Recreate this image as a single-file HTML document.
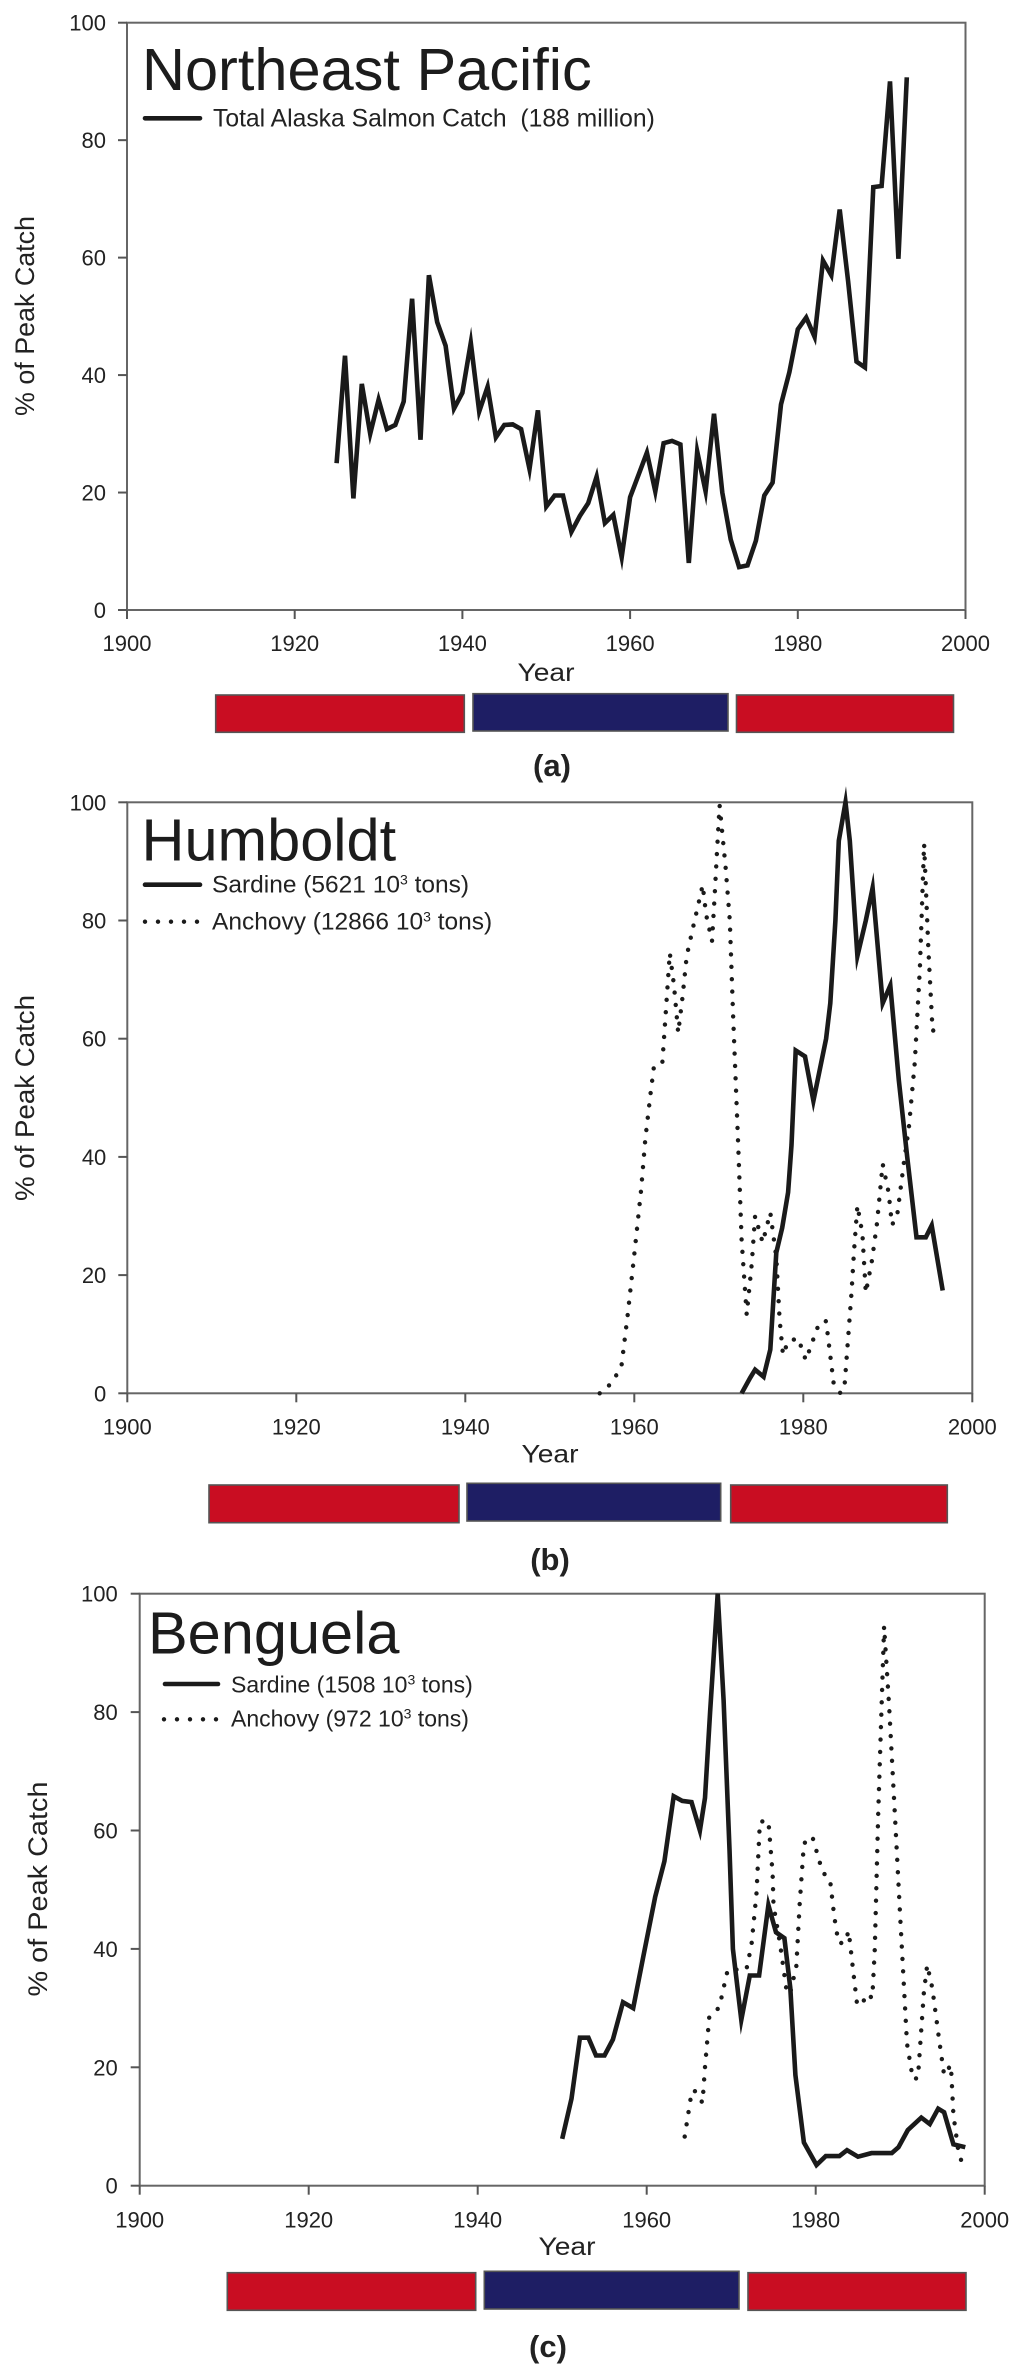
<!DOCTYPE html>
<html lang="en">
<head>
<meta charset="utf-8">
<title>Peak catch charts</title>
<style>
html,body{margin:0;padding:0;background:#fff;}
svg{display:block;font-family:"Liberation Sans",Arial,sans-serif;fill:#222;filter:blur(0.35px);}
.title{font-size:59.5px;fill:#1c1c1c;}
.legend{font-size:24.5px;white-space:pre;}
.legend-narrow{font-size:23px;}
.tick{font-size:22px;}
.ytitle{font-size:27px;}
.xtitle{font-size:25px;}
.panel{font-size:31px;font-weight:bold;}
.sup{font-size:14px;}
.frame{fill:none;stroke:#666;stroke-width:2;}
.red{fill:#c90d22;stroke:#555;stroke-width:1.6;}
.blue{fill:#1e1e64;stroke:#555;stroke-width:1.6;}
.solid{fill:none;stroke:#1a1a1a;stroke-width:4.6;stroke-linejoin:miter;stroke-miterlimit:8;}
.legend-solid{stroke-linecap:round;}
.dotted{fill:none;stroke:#1a1a1a;stroke-width:4.4;stroke-linecap:round;stroke-dasharray:0 12.4;}
.legend-dotted{stroke-dasharray:0 13;}
</style>
</head>
<body>
<svg id="figure" width="1024" height="2370" viewBox="0 0 1024 2370" xmlns="http://www.w3.org/2000/svg">
  <rect width="1024" height="2370" fill="#fff"/>

  <g id="panel-a">
    <rect class="frame" x="127" y="22.7" width="838.5" height="587.3"/>
    <text class="title" x="142" y="90">Northeast Pacific</text>
    <line class="solid legend-solid" x1="145" y1="118.3" x2="200" y2="118.3"/>
    <text class="legend" x="213" y="126.7" style="font-size:24.7px">Total Alaska Salmon Catch  (188 million)</text>
    <text class="ytitle" transform="translate(34,316) rotate(-90)" text-anchor="middle" textLength="200" lengthAdjust="spacingAndGlyphs">% of Peak Catch</text>
    <text class="xtitle" x="546" y="681" text-anchor="middle" textLength="57" lengthAdjust="spacingAndGlyphs">Year</text>
    <rect class="red" x="215.7" y="695" width="248.6" height="37.3"/>
    <rect class="blue" x="473" y="693.7" width="255" height="37.3"/>
    <rect class="red" x="736.5" y="695" width="217" height="37.3"/>
    <text class="panel" x="552" y="776" text-anchor="middle">(a)</text>
  </g>

  <g id="panel-b">
    <rect class="frame" x="127.3" y="802.3" width="845" height="591"/>
    <text class="title" x="141.5" y="860.7">Humboldt</text>
    <line class="solid legend-solid" x1="145" y1="884.7" x2="200" y2="884.7"/>
    <text class="legend" x="212" y="892.3">Sardine (5621 10<tspan class="sup" dy="-8">3</tspan><tspan dy="8"> tons)</tspan></text>
    <line class="dotted legend-dotted" x1="145" y1="921.7" x2="198" y2="921.7"/>
    <text class="legend" x="212" y="929.3">Anchovy (12866 10<tspan class="sup" dy="-8">3</tspan><tspan dy="8"> tons)</tspan></text>
    <text class="ytitle" transform="translate(34,1098) rotate(-90)" text-anchor="middle" textLength="206" lengthAdjust="spacingAndGlyphs">% of Peak Catch</text>
    <text class="xtitle" x="550" y="1462.7" text-anchor="middle" textLength="57" lengthAdjust="spacingAndGlyphs">Year</text>
    <rect class="red" x="209" y="1485" width="250" height="37.7"/>
    <rect class="blue" x="467" y="1483.3" width="253.7" height="37.7"/>
    <rect class="red" x="730.7" y="1485" width="216.6" height="37.7"/>
    <text class="panel" x="550" y="1570" text-anchor="middle">(b)</text>
  </g>

  <g id="panel-c">
    <rect class="frame" x="139.7" y="1593.7" width="845" height="592"/>
    <text class="title" x="148" y="1653.3">Benguela</text>
    <line class="solid legend-solid" x1="165" y1="1684" x2="218" y2="1684"/>
    <text class="legend legend-narrow" x="231" y="1692.3">Sardine (1508 10<tspan class="sup" dy="-8">3</tspan><tspan dy="8"> tons)</tspan></text>
    <line class="dotted legend-dotted" x1="164" y1="1719.3" x2="217" y2="1719.3"/>
    <text class="legend legend-narrow" x="231" y="1726.7">Anchovy (972 10<tspan class="sup" dy="-8">3</tspan><tspan dy="8"> tons)</tspan></text>
    <text class="ytitle" transform="translate(47,1889) rotate(-90)" text-anchor="middle" textLength="215" lengthAdjust="spacingAndGlyphs">% of Peak Catch</text>
    <text class="xtitle" x="567" y="2255" text-anchor="middle" textLength="57" lengthAdjust="spacingAndGlyphs">Year</text>
    <rect class="red" x="227.3" y="2272.7" width="248.4" height="37.6"/>
    <rect class="blue" x="484.3" y="2271.3" width="254.7" height="37.7"/>
    <rect class="red" x="748" y="2272.7" width="218" height="37.6"/>
    <text class="panel" x="548" y="2357" text-anchor="middle">(c)</text>
  </g>
</svg>

<script>
const xTickLabels = [1900, 1920, 1940, 1960, 1980, 2000];
const yTickLabels = [0, 20, 40, 60, 80, 100];

const salmonYears = [1925,1926,1927,1928,1929,1930,1931,1932,1933,1934,1935,1936,1937,1938,1939,1940,1941,1942,1943,1944,1945,1946,1947,1948,1949,1950,1951,1952,1953,1954,1955,1956,1957,1958,1959,1960,1961,1962,1963,1964,1965,1966,1967,1968,1969,1970,1971,1972,1973,1974,1975,1976,1977,1978,1979,1980,1981,1982,1983,1984,1985,1986,1987,1988,1989,1990,1991,1992,1993];
const salmonCatch = [25,43.3,19,38.5,30,35.8,30.8,31.5,35.5,53,29,57,49,45,34.3,37,45.5,33.8,38,29.4,31.5,31.6,30.8,24,34,17.6,19.5,19.5,13.3,16,18.2,22.7,14.8,16.2,9,19.2,23,26.8,20.2,28.4,28.8,28.2,8,27,20.2,33.4,20,12,7.3,7.6,11.8,19.5,21.7,35,40.5,47.8,49.8,46.5,59.5,57,68.2,56,42.3,41.3,72,72.2,90,59.8,90.7];

const humboldtSardineYears = [1972.7,1973.7,1974.3,1975.3,1976.1,1976.8,1977.5,1978.2,1978.6,1979.1,1980.2,1981.2,1982.7,1983.2,1983.8,1984.2,1985,1985.5,1986.4,1987.4,1988.2,1989.4,1990.3,1991.3,1992.3,1993.4,1994.5,1995.2,1996.5];
const humboldtSardineCatch = [0,2.6,4,2.8,7.4,23.8,28,34,42,58,57,49.5,60,66,80,93.5,100,93.5,74,80,85.5,66,69,53,40,26.4,26.4,28.4,17.4];
const humboldtAnchovyYears = [1955.9,1956.6,1957.7,1958.5,1959.2,1960,1960.8,1961.3,1961.9,1962.3,1963.3,1963.7,1964.2,1964.7,1965.2,1965.7,1966.2,1966.9,1968.1,1968.5,1969.2,1969.5,1969.8,1970.1,1970.8,1971.3,1971.7,1972.3,1972.7,1973.3,1973.9,1974.3,1975.2,1976.1,1976.8,1977.2,1977.6,1978.2,1979.4,1980.3,1981.9,1982.7,1983.6,1984.4,1984.9,1985.7,1986,1986.4,1987,1987.4,1988.1,1988.7,1989.4,1990.1,1990.5,1991.1,1991.9,1992.5,1993.2,1993.8,1994.3,1994.8,1995.3,1996.2];
const humboldtAnchovyCatch = [0,0.6,2.6,4.8,13,23.5,34.4,43,50.5,55,55.6,64,74.5,69,61,67,74,78.5,86,81,76.5,84,92,99.5,89,80,63.5,42,26,13.3,22,30,25.5,30.6,23,12.5,6.5,8.8,9.3,5.6,12,12.2,1.6,0,1.6,17,24,31.8,27,17,22.2,28.5,38.8,34,28.5,30,39,45,56,72,93,75,61.3,62.3];

const benguelaSardineYears = [1950,1951.1,1952.1,1953.1,1954,1955,1956,1957.2,1958.4,1959.6,1961,1962.1,1963.2,1964.2,1965.3,1966.3,1966.9,1967.5,1968.4,1969.1,1969.8,1970.2,1971.2,1972.2,1973.3,1974.4,1975.3,1976.3,1977,1977.6,1978.6,1980.1,1981.2,1982.8,1983.7,1985,1986.6,1989,1989.8,1990.9,1992.5,1993.5,1994.5,1995.2,1996.3,1997.7];
const benguelaSardineCatch = [7.9,14.7,25,25,22,22,24.7,31,30,38.7,48.8,54.8,65.8,65,64.8,60,65.5,80,100,82,56.8,40,28,35.5,35.5,47.4,42.8,41.8,33.4,18.7,7.3,3.5,5,5,6,4.9,5.5,5.5,6.5,9.4,11.5,10.4,13,12.4,7,6.5];
const benguelaAnchovyYears = [1964.5,1965.2,1965.6,1966.6,1966.9,1967.4,1967.6,1968.6,1969.3,1969.6,1970.4,1971.8,1972.4,1973,1973.4,1974.4,1974.9,1975,1975.8,1976.6,1977,1977.7,1978.1,1978.6,1979.6,1980.8,1981.7,1982.2,1982.7,1983.4,1983.9,1984.4,1984.9,1985.5,1986,1986.7,1987,1987.4,1988.1,1988.7,1989.4,1990,1990.8,1991.5,1992.1,1992.8,1993.2,1993.8,1994.6,1995.2,1996,1996.3,1996.9,1997.3];
const benguelaAnchovyCatch = [8.3,14.7,16.2,14,20,28.4,28.5,30.2,34.7,36.5,36.5,36.5,40.7,49.4,61.5,61.6,52.8,47.4,40.7,32.4,32.7,37,47.4,57.8,59,53,51.6,45.4,41,41,43,36.7,30.6,30.6,32.4,31.7,40,62.8,94.5,80.8,62,45.4,24,18,18.2,32.7,37.3,33.4,24.7,18.7,20.4,12,5.7,3.9];

const SVG_NS = 'http://www.w3.org/2000/svg';

function makeScale(d0, d1, r0, r1) {
  return function (v) { return r0 + (v - d0) * (r1 - r0) / (d1 - d0); };
}

function drawAxes(group, x, y, bottom, left, labelDrop, labelGap) {
  xTickLabels.forEach(function (t) {
    const tick = document.createElementNS(SVG_NS, 'line');
    
    
    tick.setAttribute('x1', x(t));
    tick.setAttribute('x2', x(t));
    tick.setAttribute('y1', bottom);
    tick.setAttribute('y2', bottom + 9);
    tick.setAttribute('stroke', '#555');
    tick.setAttribute('stroke-width', '2');
    group.appendChild(tick);
    const label = document.createElementNS(SVG_NS, 'text');
    
    
    label.setAttribute('class', 'tick');
    label.setAttribute('x', x(t));
    label.setAttribute('y', bottom + labelDrop);
    label.setAttribute('text-anchor', 'middle');
    label.textContent = t;
    group.appendChild(label);
  });
  yTickLabels.forEach(function (t) {
    const tick = document.createElementNS(SVG_NS, 'line');
    
    
    tick.setAttribute('x1', left - 9);
    tick.setAttribute('x2', left);
    tick.setAttribute('y1', y(t));
    tick.setAttribute('y2', y(t));
    tick.setAttribute('stroke', '#555');
    tick.setAttribute('stroke-width', '2');
    group.appendChild(tick);
    const label = document.createElementNS(SVG_NS, 'text');
    
    
    label.setAttribute('class', 'tick');
    label.setAttribute('x', left - labelGap);
    label.setAttribute('y', y(t) + 8);
    label.setAttribute('text-anchor', 'end');
    label.textContent = t;
    group.appendChild(label);
  });
}

function drawSeries(group, name, cssClass, years, values, x, y) {
  const line = document.createElementNS(SVG_NS, 'polyline');
  
  
  line.setAttribute('class', cssClass);
  line.setAttribute('points', years.map(function (yr, i) {
    return x(yr).toFixed(1) + ',' + y(values[i]).toFixed(1);
  }).join(' '));
  group.appendChild(line);
}

const groupA = document.getElementById('panel-a');
const xA = makeScale(1900, 2000, 127, 965.5);
const yA = makeScale(0, 100, 610, 22.7);
drawAxes(groupA, xA, yA, 610, 127, 41, 21);
drawSeries(groupA, 'salmon-catch-line', 'solid', salmonYears, salmonCatch, xA, yA);

const groupB = document.getElementById('panel-b');
const xB = makeScale(1900, 2000, 127.3, 972.3);
const yB = makeScale(0, 100, 1393.3, 802.3);
drawAxes(groupB, xB, yB, 1393.3, 127.3, 41, 21);
drawSeries(groupB, 'anchovy-catch-line', 'dotted', humboldtAnchovyYears, humboldtAnchovyCatch, xB, yB);
drawSeries(groupB, 'sardine-catch-line', 'solid', humboldtSardineYears, humboldtSardineCatch, xB, yB);

const groupC = document.getElementById('panel-c');
const xC = makeScale(1900, 2000, 139.7, 984.7);
const yC = makeScale(0, 100, 2185.7, 1593.7);
drawAxes(groupC, xC, yC, 2185.7, 139.7, 41.6, 22);
drawSeries(groupC, 'anchovy-catch-line', 'dotted', benguelaAnchovyYears, benguelaAnchovyCatch, xC, yC);
drawSeries(groupC, 'sardine-catch-line', 'solid', benguelaSardineYears, benguelaSardineCatch, xC, yC);
</script>
</body>
</html>
